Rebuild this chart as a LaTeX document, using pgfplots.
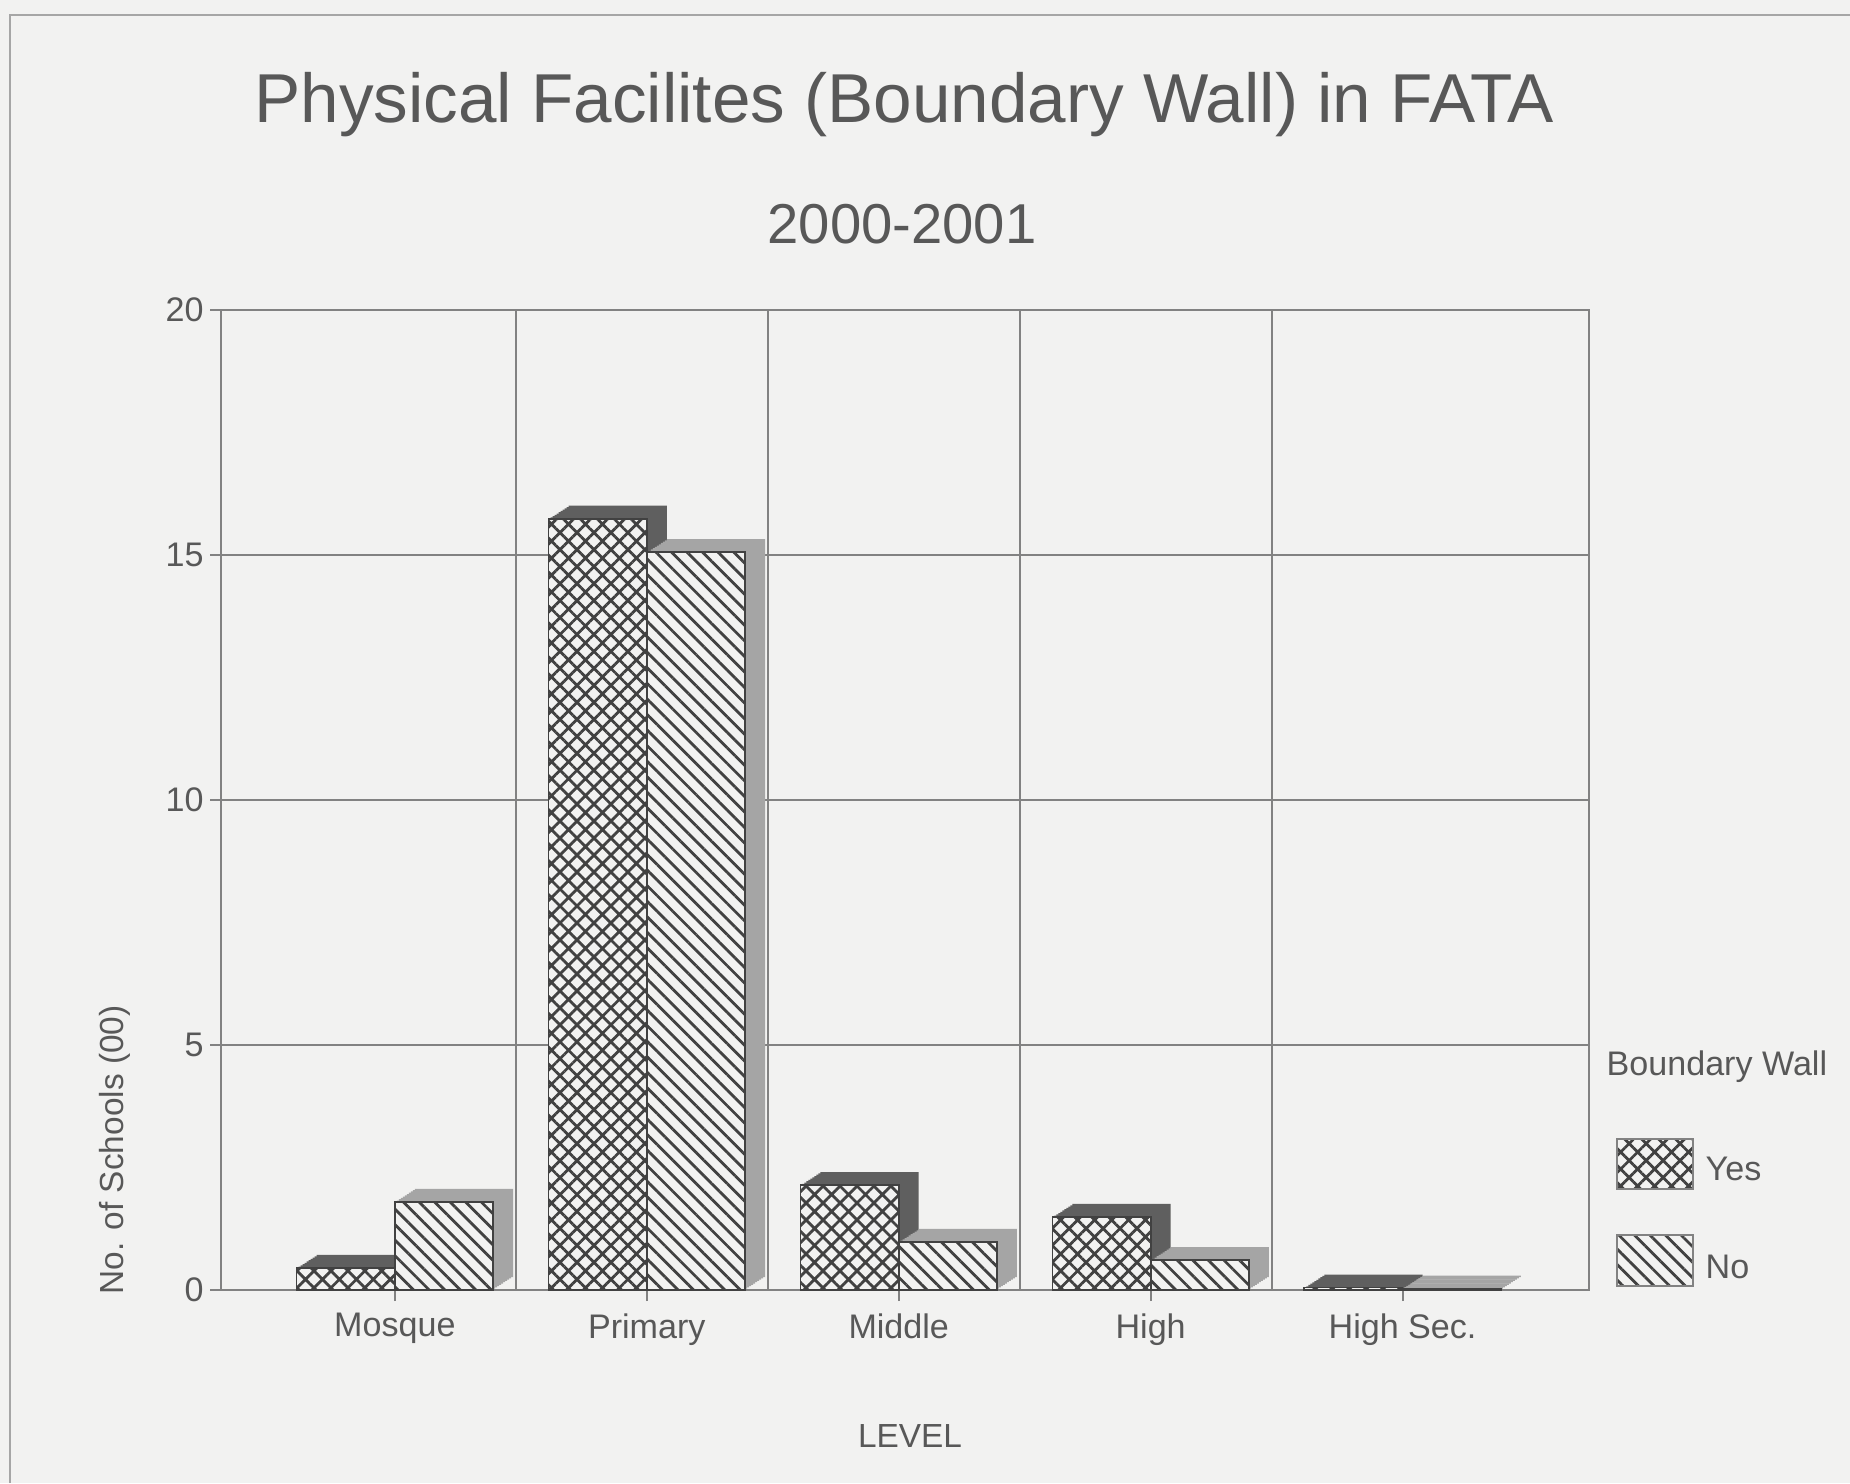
\documentclass[border=0pt]{standalone}
\usepackage{fontspec}
\setmainfont{Liberation Sans}
\usepackage{pgfplots}
\pgfplotsset{compat=1.18}
\usepackage{pgfplotstable}
\usetikzlibrary{patterns.meta}

\definecolor{paper}{RGB}{242,242,241}
\definecolor{ink}{RGB}{88,88,88}
\definecolor{gridc}{RGB}{130,130,130}
\definecolor{yesside}{RGB}{95,95,95}
\definecolor{noside}{RGB}{165,165,165}
\definecolor{hatch}{RGB}{65,65,65}

% boundary wall, hundreds of schools
\pgfplotstableread{
x yes no
0 0.45 1.80
1 15.74 15.06
2 2.14 0.98
3 1.49 0.61
4 0.05 0.03
}\datatab

\begin{document}
\begin{tikzpicture}
\useasboundingbox (0,0) rectangle (185mm,148.3mm);
\fill[paper] (0,0) rectangle (185mm,148.3mm);
\draw[gray!70, line width=0.6pt] (1.0mm,0) -- (1.0mm,146.8mm) -- (185mm,146.8mm);

\node[anchor=base, text=ink, font=\fontsize{19.7}{22}\selectfont] at (90.4mm,136.0mm) {Physical Facilites (Boundary Wall) in FATA};
\node[anchor=base, text=ink, font=\fontsize{16}{19}\selectfont] at (90.2mm,123.9mm) {2000-2001};

\begin{axis}[
  at={(22.1mm,19.3mm)}, anchor=south west,
  scale only axis, width=136.8mm, height=98mm,
  xmin=-0.69, xmax=4.74, ymin=0, ymax=20,
  xtick={0,1,2,3,4},
  xticklabels={Mosque,Primary,Middle,High,High Sec.},
  ytick={0,5,10,15,20},
  extra x ticks={0.48,1.48,2.48,3.48},
  extra x tick labels={},
  extra x tick style={xmajorgrids=true, major tick length=0pt},
  ymajorgrids=true,
  grid style={gridc, line width=0.55pt},
  axis line style={gridc, line width=0.55pt},
  tick style={gridc, line width=0.55pt},
  tick align=outside, tick pos=left, major tick length=1.1mm,
  tick label style={text=ink, font=\fontsize{9.7}{11}\selectfont},
  yticklabel style={xshift=0.6mm},
  /pgf/number format/assume math mode=true,
]
% depth of the Yes bars
\pgfplotsinvokeforeach{1,...,10}{
  \addplot[ybar, bar width=0.39, bar shift=-0.195, draw=none, fill=yesside,
    xshift=#1*0.2mm, yshift=#1*0.13mm] table[x=x, y=yes] {\datatab};
}
\addplot[ybar, bar width=0.39, bar shift=-0.195, draw=hatch, line width=0.5pt, fill=paper,
  postaction={pattern={Hatch[angle=45, distance=1.2mm, line width=0.28mm]}, pattern color=hatch}]
  table[x=x, y=yes] {\datatab};
% depth of the No bars
\pgfplotsinvokeforeach{1,...,10}{
  \addplot[ybar, bar width=0.39, bar shift=0.195, draw=none, fill=noside,
    xshift=#1*0.2mm, yshift=#1*0.13mm] table[x=x, y=no] {\datatab};
}
\addplot[ybar, bar width=0.39, bar shift=0.195, draw=hatch, line width=0.5pt, fill=paper,
  postaction={pattern={Lines[angle=-45, distance=1.1mm, line width=0.28mm]}, pattern color=hatch}]
  table[x=x, y=no] {\datatab};
\end{axis}

\node[rotate=90, text=ink, font=\fontsize{9.5}{11}\selectfont] at (11.45mm,33.3mm) {No. of Schools (00)};
\node[anchor=base, text=ink, font=\fontsize{9.5}{11}\selectfont] at (91mm,3.6mm) {LEVEL};

% legend
\node[anchor=base west, text=ink, font=\fontsize{9.7}{11}\selectfont, inner sep=0pt] at (160.6mm,40.7mm) {Boundary Wall};
\fill[paper] (161.7mm,29.4mm) rectangle (169.3mm,34.4mm);
\draw[gridc, line width=0.55pt, pattern={Hatch[angle=45, distance=1.2mm, line width=0.28mm]}, pattern color=hatch]
  (161.7mm,29.4mm) rectangle (169.3mm,34.4mm);
\node[anchor=base west, text=ink, font=\fontsize{9.7}{11}\selectfont, inner sep=0pt] at (170.5mm,30.3mm) {Yes};
\fill[paper] (161.7mm,19.7mm) rectangle (169.3mm,24.8mm);
\draw[gridc, line width=0.55pt, pattern={Lines[angle=-45, distance=1.1mm, line width=0.28mm]}, pattern color=hatch]
  (161.7mm,19.7mm) rectangle (169.3mm,24.8mm);
\node[anchor=base west, text=ink, font=\fontsize{9.7}{11}\selectfont, inner sep=0pt] at (170.5mm,20.5mm) {No};
\end{tikzpicture}
\end{document}
